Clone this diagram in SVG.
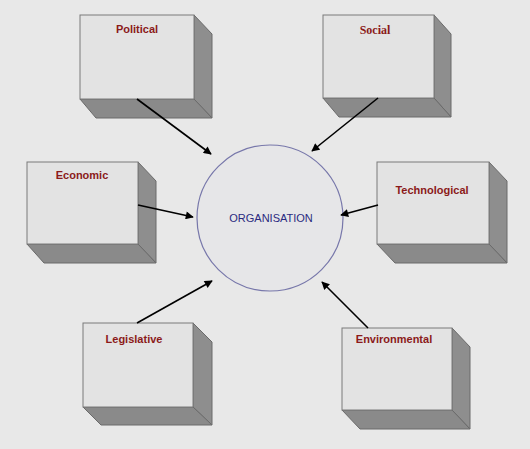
<svg xmlns="http://www.w3.org/2000/svg" width="530" height="449" viewBox="0 0 530 449">
<style>
.front{fill:#e3e3e3;stroke:#7a7a7a;stroke-width:1}
.side{fill:#8e8e8e;stroke:#6a6a6a;stroke-width:1}
.bot{fill:#8a8a8a;stroke:#6a6a6a;stroke-width:1}
.lbl{font-family:"Liberation Sans",Arial,sans-serif;font-weight:bold;font-size:11px;fill:#8b1a1a;text-anchor:middle}
.conn{stroke:#000;stroke-width:1.6;fill:none;marker-end:url(#ah)}
</style>
<defs>
<marker id="ah" viewBox="0 0 10 10" refX="9" refY="5" markerWidth="9" markerHeight="8" markerUnits="userSpaceOnUse" orient="auto"><path d="M0,0 L10,5 L0,10 z" fill="#000"/></marker>
</defs>
<rect width="530" height="449" fill="#e8e8e8"/>
<g id="political">
<polygon class="side" points="194,15 212,34 212,118 194,99"/>
<polygon class="bot" points="80,99 194,99 212,118 96,118"/>
<rect class="front" x="80" y="15" width="114" height="84"/>
<text class="lbl" x="137" y="33">Political</text>
</g>
<g id="social">
<polygon class="side" points="434,15 451,34 451,117 434,98"/>
<polygon class="bot" points="323,98 434,98 451,117 339,117"/>
<rect class="front" x="323" y="15" width="111" height="83"/>
<text class="lbl" x="375" y="34" style="font-family:'Liberation Serif','Times New Roman',serif;font-size:12px">Social</text>
</g>
<g id="economic">
<polygon class="side" points="138,162 156,181 156,263 138,244"/>
<polygon class="bot" points="27,244 138,244 156,263 44,263"/>
<rect class="front" x="27" y="162" width="111" height="82"/>
<text class="lbl" x="82" y="179">Economic</text>
</g>
<g id="technological">
<polygon class="side" points="489,162 507,181 507,263 489,244"/>
<polygon class="bot" points="377,244 489,244 507,263 395,263"/>
<rect class="front" x="377" y="162" width="112" height="82"/>
<text class="lbl" x="432" y="194">Technological</text>
</g>
<g id="legislative">
<polygon class="side" points="193,323 212,342 212,425 193,407"/>
<polygon class="bot" points="83,407 193,407 212,425 101,425"/>
<rect class="front" x="83" y="323" width="110" height="84"/>
<text class="lbl" x="134" y="343">Legislative</text>
</g>
<g id="environmental">
<polygon class="side" points="452,328 470,347 470,429 452,410"/>
<polygon class="bot" points="342,410 452,410 470,429 360,429"/>
<rect class="front" x="342" y="328" width="110" height="82"/>
<text class="lbl" x="394" y="343">Environmental</text>
</g>
<g id="organisation">
<circle cx="270" cy="218" r="73" fill="#e6e6e8" stroke="#7777aa" stroke-width="1.2"/>
<text x="271" y="222" font-family="'Liberation Sans',Arial,sans-serif" font-size="11" fill="#2a2a80" text-anchor="middle">ORGANISATION</text>
</g>
<g id="connectors">
<line class="conn" x1="137" y1="99" x2="211" y2="154"/>
<line class="conn" x1="378" y1="98" x2="312" y2="151"/>
<line class="conn" x1="138" y1="205" x2="193" y2="217"/>
<line class="conn" x1="378" y1="205" x2="341" y2="215"/>
<line class="conn" x1="137" y1="323" x2="212" y2="281"/>
<line class="conn" x1="368" y1="328" x2="322" y2="282"/>
</g>
</svg>
